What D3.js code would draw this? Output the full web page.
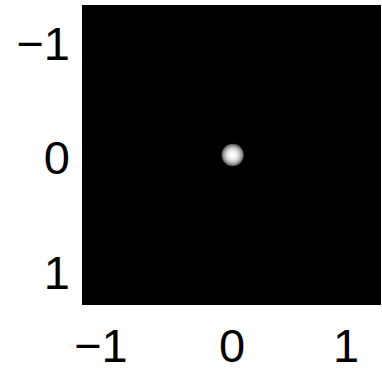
<!DOCTYPE html>
<html>
<head>
<meta charset="utf-8">
<script src="https://cdn.jsdelivr.net/npm/d3@7"></script>
<style>
  body { margin: 0; background: #fff; }
  .tick text { font-family: "Liberation Sans", Arimo, Helvetica, Arial; font-size: 47px; }
</style>
</head>
<body>
<div id="chart"></div>
<script>
const xTicks = [-1, 0, 1];
const yTicks = [-1, 0, 1];
const extent = [-1.31, 1.31];

// bright spot: centre, radius and brightness from centre (0) to rim (1)
const spotCenter = [0.01, 0];
const spotRadius = 0.098;
const profileR = [0, 0.2, 0.4, 0.6, 0.75, 0.85, 0.93, 1];
const profileV = [1, 0.98, 0.92, 0.8, 0.66, 0.53, 0.4, 0.3];

const Width = 382;
const Height = 373;
const margin = { top: 5, right: 1, bottom: 68, left: 82 };

const x = d3.scaleLinear().domain(extent).range([margin.left, Width - margin.right]);
const y = d3.scaleLinear().domain(extent).range([margin.top, Height - margin.bottom]);
const gray = d3.scaleLinear().domain([0, 1]).range(["#000", "#fff"]);

const svg = d3
  .select("#chart")
  .append("svg")
  .attr("width", Width)
  .attr("height", Height);

svg
  .append("rect")
  .attr("x", x(extent[0]))
  .attr("y", y(extent[0]))
  .attr("width", x(extent[1]) - x(extent[0]))
  .attr("height", y(extent[1]) - y(extent[0]))
  .attr("fill", "#000");

const grad = svg
  .append("defs")
  .append("radialGradient")
  .attr("id", "spot");
grad
  .selectAll("stop")
  .data(profileR)
  .join("stop")
  .attr("offset", (d) => d)
  .attr("stop-color", (d, i) => gray(profileV[i]));

svg
  .append("circle")
  .attr("cx", x(spotCenter[0]))
  .attr("cy", y(spotCenter[1]))
  .attr("r", x(spotRadius) - x(0))
  .attr("fill", "url(#spot)");

const fmt = (d) => (d < 0 ? "\u2212" + Math.abs(d) : String(d));

const xAxis = svg
  .append("g")
  .attr("transform", `translate(0,${y(extent[1])})`)
  .call(d3.axisBottom(x).tickValues(xTicks).tickFormat(fmt).tickSize(0).tickPadding(24));

const yAxis = svg
  .append("g")
  .attr("transform", `translate(${x(extent[0])},0)`)
  .call(d3.axisLeft(y).tickValues(yTicks).tickFormat(fmt).tickSize(0).tickPadding(12));

svg.selectAll(".domain").remove();
svg.selectAll(".tick text").attr("fill", "#000");
yAxis.selectAll(".tick text").attr("dy", "0.4em");
// negative labels on the x axis sit a little left of their tick in the original
xAxis.selectAll(".tick text").attr("dx", (d) => (d < 0 ? "-0.36em" : null));
</script>
</body>
</html>
